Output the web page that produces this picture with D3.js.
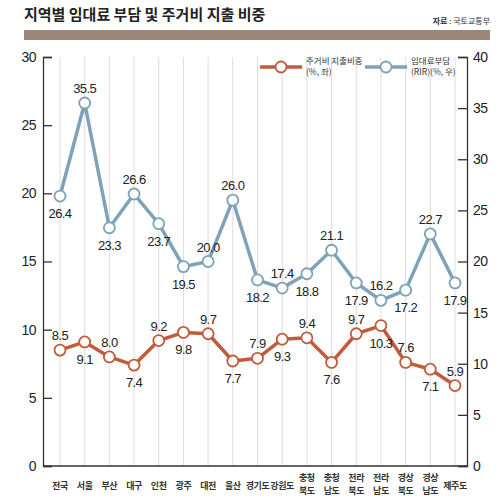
<!DOCTYPE html>
<html>
<head>
<meta charset="utf-8">
<script src="https://cdn.jsdelivr.net/npm/d3@7"></script>
<style>
  body { margin: 0; background: #fff; }
  text { font-family: "Liberation Sans", "Noto Sans CJK KR", sans-serif; }
  .kr { font-family: "Noto Sans CJK KR", sans-serif; }
</style>
</head>
<body>
<div class="chart_container"></div>
<script>
// data
var regions = ["전국", "서울", "부산", "대구", "인천", "광주", "대전", "울산", "경기도", "강원도",
               "충청\n북도", "충청\n남도", "전라\n북도", "전라\n남도", "경상\n북도", "경상\n남도", "제주도"];
var housingShare = [8.5, 9.1, 8.0, 7.4, 9.2, 9.8, 9.7, 7.7, 7.9, 9.3, 9.4, 7.6, 9.7, 10.3, 7.6, 7.1, 5.9];
var rentBurden = [26.4, 35.5, 23.3, 26.6, 23.7, 19.5, 20.0, 26.0, 18.2, 17.4, 18.8, 21.1, 17.9, 16.2, 17.2, 22.7, 17.9];
// label above (1) or below (-1) the point
var housingPos = [1, -1, 1, -1, 1, -1, 1, -1, 1, -1, 1, -1, 1, -1, 1, -1, 1];
var rentPos = [-1, 1, -1, 1, -1, -1, 1, 1, -1, 1, -1, 1, -1, 1, -1, 1, -1];
var leftTicks = [0, 5, 10, 15, 20, 25, 30];
var rightTicks = [0, 5, 10, 15, 20, 25, 30, 35, 40];

var w = 500, h = 500;
var orange = "#c25a3c", blue = "#7ea2b9";

var svg = d3.select('.chart_container')
            .append('svg')
            .attr('width', w)
            .attr('height', h);

// header
svg.append('text')
   .attr('class', 'kr')
   .attr('x', 24).attr('y', 20)
   .style('font-size', '15px')
   .style('font-weight', 'bold')
   .attr('fill', '#222')
   .text('지역별 임대료 부담 및 주거비 지출 비중');
var src = svg.append('text')
   .attr('class', 'kr')
   .attr('x', 490).attr('y', 24)
   .attr('text-anchor', 'end')
   .style('font-size', '8px')
   .attr('fill', '#333');
src.append('tspan').style('font-weight', 'bold').text('자료');
src.append('tspan').text(' : 국토교통부');
svg.append('rect')
   .attr('x', 24).attr('y', 30)
   .attr('width', 466).attr('height', 10)
   .attr('fill', '#9e8579');

// scales
var x_scale = d3.scalePoint()
                .domain(regions)
                .range([60, 455]);
var left_scale = d3.scaleLinear().domain([0, 30]).range([466, 57]);
var right_scale = d3.scaleLinear().domain([0, 40]).range([466, 57]);

// vertical grid
svg.append('g')
   .selectAll('line')
   .data(regions)
   .enter()
   .append('line')
   .attr('x1', d => x_scale(d)).attr('x2', d => x_scale(d))
   .attr('y1', 57).attr('y2', 466)
   .attr('stroke', '#d4d4d4')
   .attr('stroke-width', 0.8);

// axes
var left_axis = d3.axisRight(left_scale).tickValues(leftTicks).tickSize(9).tickFormat(d3.format('d'));
var gl = svg.append('g')
   .attr('transform', 'translate(43,0)')
   .call(left_axis);
gl.selectAll('text')
  .attr('x', -7)
  .attr('text-anchor', 'end')
  .style('font-size', '14px')
  .style('letter-spacing', '-0.5px')
  .attr('fill', '#222');

var right_axis = d3.axisLeft(right_scale).tickValues(rightTicks).tickSize(9).tickFormat(d3.format('d'));
var gr = svg.append('g')
   .attr('transform', 'translate(467,0)')
   .call(right_axis);
gr.selectAll('text')
  .attr('x', 6)
  .attr('text-anchor', 'start')
  .style('font-size', '14px')
  .style('letter-spacing', '-0.5px')
  .attr('fill', '#222');

[gl, gr].forEach(function(g){
    g.select('.domain').attr('stroke', '#333').attr('stroke-width', 1.3);
    g.selectAll('.tick line').attr('stroke', '#333').attr('stroke-width', 1.3);
});

// bottom baseline
svg.append('path')
   .attr('d', d3.line()([[43, left_scale(0)], [467, left_scale(0)]]))
   .attr('stroke', '#333')
   .attr('stroke-width', 1.5);

// category labels, one text per line
var catLines = [];
regions.forEach(function(d){
    var parts = d.split('\n');
    parts.forEach(function(p, i){
        catLines.push({region: d, text: p, y: parts.length > 1 ? 481 + i * 13 : 489});
    });
});
svg.append('g')
   .selectAll('text')
   .data(catLines)
   .enter()
   .append('text')
   .attr('class', 'kr')
   .attr('x', d => x_scale(d.region))
   .attr('y', d => d.y)
   .attr('text-anchor', 'middle')
   .style('font-size', '9px')
   .style('font-weight', 'bold')
   .style('letter-spacing', '-0.4px')
   .attr('fill', '#333')
   .text(d => d.text);

// series
function drawSeries(values, scale, color, pos){
    var pts = values.map((v, i) => [x_scale(regions[i]), scale(v)]);
    svg.append('path')
       .attr('d', d3.line()(pts))
       .attr('fill', 'none')
       .attr('stroke', color)
       .attr('stroke-width', 3.5)
       .attr('stroke-linejoin', 'round');
    svg.append('g')
       .selectAll('circle')
       .data(pts)
       .enter()
       .append('circle')
       .attr('cx', d => d[0]).attr('cy', d => d[1])
       .attr('r', 5.5)
       .attr('fill', '#fff')
       .attr('stroke', color)
       .attr('stroke-width', 1.8);
    svg.append('g')
       .selectAll('text')
       .data(values)
       .enter()
       .append('text')
       .attr('x', (d, i) => pts[i][0])
       .attr('y', (d, i) => pos[i] > 0 ? pts[i][1] - 10 : pts[i][1] + 22)
       .attr('text-anchor', 'middle')
       .style('font-size', '13px')
       .style('letter-spacing', '-0.6px')
       .attr('fill', '#222')
       .text(d => d3.format('.1f')(d));
}
drawSeries(rentBurden, right_scale, blue, rentPos);
drawSeries(housingShare, left_scale, orange, housingPos);

// legend
function legendItem(x, color, lines){
    svg.append('path')
       .attr('d', d3.line()([[x, 67], [x + 42, 67]]))
       .attr('stroke', color)
       .attr('stroke-width', 3.5);
    svg.append('circle')
       .attr('cx', x + 21).attr('cy', 67).attr('r', 5.5)
       .attr('fill', '#fff').attr('stroke', color).attr('stroke-width', 1.8);
    svg.append('g')
       .selectAll('text')
       .data(lines)
       .enter()
       .append('text')
       .attr('class', 'kr')
       .attr('x', x + 46)
       .attr('y', (d, i) => 64 + i * 11)
       .style('font-size', '8.5px')
       .attr('fill', '#333')
       .text(d => d);
}
legendItem(260, orange, ['주거비 지출비중', '(%, 좌)']);
legendItem(365, blue, ['임대료부담', '(RIR)(%, 우)']);
</script>
</body>
</html>
